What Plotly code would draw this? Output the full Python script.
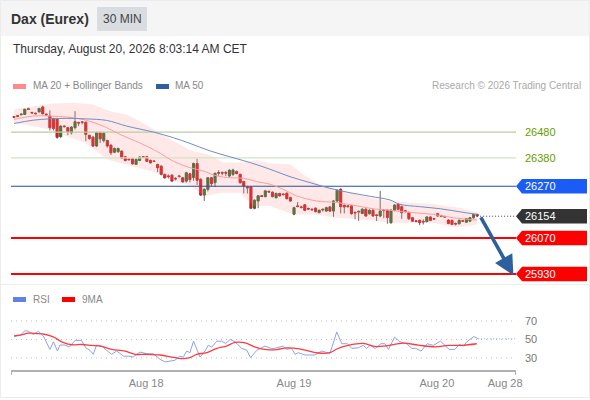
import plotly.graph_objects as go

OPEN = [26540,26543,26547,26548,26570,26556,26553,26558,26577,26549,26542,26531,26531,26462,26503,26497,26477,26497,26517,26519,26518,26467,26460,26426,26477,26447,26447,26429,26402,26404,26406,26384,26375,26376,26355,26370,26384,26384,26370,26368,26354,26348,26316,26310,26313,26301,26310,26303,26290,26318,26304,26358,26297,26236,26258,26303,26284,26323,26323,26323,26310,26316,26327,26316,26288,26266,26267,26185,26213,26233,26230,26250,26247,26226,26242,26240,26243,26226,26162,26194,26190,26198,26184,26181,26185,26168,26181,26174,26190,26174,26213,26258,26196,26194,26194,26169,26173,26165,26181,26164,26177,26159,26155,26178,26177,26129,26177,26200,26191,26175,26168,26148,26136,26138,26134,26133,26151,26145,26164,26156,26153,26139,26138,26126,26125,26136,26131,26135,26148,26161]
HIGH = [26542,26546,26552,26570,26574,26558,26555,26574,26582,26552,26564,26535,26535,26506,26506,26500,26503,26561,26520,26522,26520,26470,26464,26481,26481,26480,26450,26432,26420,26420,26409,26387,26378,26380,26378,26386,26387,26388,26373,26370,26358,26351,26319,26316,26316,26305,26314,26306,26326,26322,26362,26377,26300,26262,26306,26306,26323,26332,26327,26329,26336,26338,26331,26319,26291,26272,26270,26219,26236,26236,26256,26254,26250,26246,26245,26243,26246,26230,26191,26209,26195,26201,26187,26184,26188,26180,26184,26191,26194,26217,26259,26262,26199,26197,26198,26172,26176,26185,26185,26181,26181,26162,26252,26181,26181,26181,26201,26204,26195,26178,26172,26151,26139,26141,26142,26154,26154,26148,26167,26159,26156,26143,26141,26129,26141,26139,26147,26151,26164,26164]
LOW = [26534,26538,26545,26546,26566,26552,26549,26556,26548,26544,26486,26486,26454,26458,26498,26468,26471,26490,26503,26510,26445,26450,26422,26422,26438,26440,26420,26391,26398,26400,26376,26366,26370,26354,26352,26367,26379,26364,26358,26364,26325,26312,26300,26300,26288,26293,26304,26283,26284,26285,26291,26275,26232,26213,26250,26269,26267,26310,26312,26310,26305,26310,26316,26280,26242,26242,26182,26181,26185,26228,26227,26244,26227,26222,26230,26234,26219,26210,26158,26188,26184,26174,26178,26176,26169,26165,26172,26171,26171,26152,26209,26165,26165,26186,26160,26142,26136,26162,26152,26160,26152,26136,26150,26146,26125,26125,26173,26177,26144,26168,26140,26132,26130,26119,26122,26130,26135,26140,26152,26151,26148,26123,26119,26118,26122,26132,26128,26132,26145,26152]
CLOSE = [26537,26541,26549,26568,26568,26554,26551,26571,26551,26547,26497,26494,26460,26503,26501,26481,26499,26520,26515,26518,26471,26455,26426,26477,26454,26475,26426,26400,26416,26416,26380,26370,26373,26357,26374,26383,26382,26367,26361,26366,26342,26316,26303,26308,26290,26299,26308,26287,26322,26296,26358,26293,26236,26258,26303,26280,26320,26321,26321,26321,26332,26333,26319,26284,26271,26264,26185,26216,26233,26231,26252,26248,26230,26242,26233,26238,26222,26213,26187,26192,26188,26177,26182,26179,26172,26177,26179,26187,26174,26213,26254,26191,26190,26192,26164,26167,26171,26181,26155,26177,26155,26157,26174,26176,26149,26177,26197,26181,26168,26173,26144,26135,26134,26129,26132,26151,26138,26143,26155,26154,26151,26126,26122,26124,26138,26135,26144,26148,26161,26155]
CANDLE_X = list(range(len(OPEN)))

MA50_X = [0,5.4,10,14.7,20,25.8,31.4,38.8,44.4,49,54.6,60.2,65.7,71.3,76.9,82.5,88,93.6,99.2,104.7,107.5,113,118.7,124.2,129]
MA50 = [26513,26526,26531,26533,26531,26525,26503,26480,26458,26436,26407,26384,26362,26336,26307,26284,26262,26245,26231,26217,26200,26191,26183,26171,26161]
MA20_X = [0,5.4,10,14.7,18.4,22,25.8,29.5,35,39.7,44.4,49,52.7,56.5,60.2,63.9,67.6,71.3,75,78.7,84.3,89.9,95.5,101,104.7,111,116.8,122.4,129]
MA20 = [26529,26542,26542,26538,26531,26518,26497,26471,26438,26406,26367,26342,26329,26310,26303,26301,26288,26278,26258,26233,26213,26207,26194,26181,26177,26168,26161,26148,26139]
UPPER_X = [0,5.4,11,16.5,22,26.7,31.4,35,39.7,44.4,49,51.8,54.6,58.3,63.9,67.6,71.3,76.9,80.6,84.3,88,93.6,99.2,104.7,111,116.8,124.2,129]
UPPER = [26568,26580,26591,26593,26587,26561,26548,26522,26484,26445,26409,26400,26391,26362,26362,26371,26358,26355,26316,26284,26265,26245,26226,26213,26206,26200,26187,26168]
LOWER_X = [0,10,14.7,20,26,33,39.7,44.4,49,52.7,58.3,63,66.6,71.3,77.8,84.3,88.9,95.5,101,104.7,111,116.8,123.3,129]
LOWER = [26516,26490,26464,26438,26374,26348,26322,26290,26275,26233,26245,26245,26194,26194,26161,26161,26149,26142,26136,26129,26129,26129,26110,26122]

RSI_X = [0,1.7,3.1,4,5.4,6.8,8.2,10,11,12.1,12.8,14.2,15.4,17,18.8,20,21.2,22.1,23,24.4,25.8,27.2,28.6,30.5,31.8,33.2,35.1,37,38.8,40.7,42.1,43.5,44.8,46.2,47.2,48.1,49,50,50.9,51.8,52.9,54.1,55.1,56.5,57.8,59,60.2,61.6,63.4,64.8,65.9,67.6,69.9,71.8,73.2,75,76,77.3,78.3,79.2,81.1,83.8,85.7,88,89.9,91.3,92.9,94.1,95.9,97.3,98.2,99.2,100.6,102.2,103.3,104.3,106,107.5,109.4,110.8,111.9,113.4,115.1,116.8,118.8,121.2,122.8,124,125.2,126.1,128.1,129.3]
RSI = [52.9,54.6,59.6,58.9,55.4,58.9,53.6,39.3,47.5,37.5,44,44,41.8,49,49,41,38.2,34,44,42.9,38.2,34,37.5,32,32,31.2,36.4,34.6,34.6,28.6,25.7,26.8,27.5,32,31,37.5,35.7,48.2,39.3,31,35.7,43.6,41.8,48.2,48.2,45.7,50,47.5,40.4,38.6,30.4,38.2,42.9,40,41,42.9,39.3,40.4,34,35.7,33.2,33.2,37.5,35,58.2,45.4,45.4,40.4,41,43.6,40.4,43.6,40.4,45.4,45.4,39.3,52.5,47.5,45.4,40.4,40.4,37.5,45.4,43.6,48.2,39.3,39.3,44.6,42.9,47.5,53.2,50.7]
RSI_LAST_X = [129.3,139.6]
RSI_LAST = [50.7,50.7]
MA9_X = [0,1.7,4,6.3,8.8,11.1,13.3,16.1,18.8,21.6,24.4,27.2,30.9,33.7,37,40.7,44,46.7,49,50.9,53.7,56.5,59.2,61.6,64.4,67.2,70.4,73.2,76,78.3,81.1,84.8,88,89.9,93.1,97.3,100.6,103.3,108.4,112.6,117.3,121,124.7,128.9]
MA9 = [54,54.6,56.8,56.4,55.4,52.5,47.5,44.3,44.6,43.6,42.5,39.3,37.5,34,34,33.2,31,29.3,30.4,34,35.7,40.4,42.9,46.8,46.4,41.8,39,39,41,40.4,38.6,35.4,35.7,39.7,43.6,45.7,42.5,42.9,46,43.9,42,43.6,43.6,45.4]

LEVELS_GREEN = [26480, 26380]
LEVEL_BLUE = 26270
LEVEL_LAST = 26154
LEVELS_RED = [26070, 25930]
RSI_LEVELS = [70, 50, 30]
DATE_TICKS = [36.8, 78, 117.8, 136.8]
DATE_LABELS = ["Aug 18", "Aug 19", "Aug 20", "Aug 28"]

W, H = 590, 400
XR = [-0.836, 139.83]
FONT = "Liberation Sans"
fig = go.Figure()

def line(x, y, color, width=1, dash="solid", shape="linear", xa="x", ya="y"):
    fig.add_trace(go.Scatter(x=x, y=y, mode="lines", xaxis=xa, yaxis=ya, hoverinfo="skip",
                             line=dict(color=color, width=width, dash=dash, shape=shape)))

# Bollinger band
fig.add_trace(go.Scatter(x=UPPER_X + LOWER_X[::-1], y=UPPER + LOWER[::-1], fill="toself", mode="none",
                         fillcolor="rgba(255,140,140,0.2)", hoverinfo="skip"))
# levels
line(XR, [LEVELS_GREEN[0]] * 2, "#b6cfa0", 1.3)
line(XR, [LEVELS_GREEN[1]] * 2, "#d3e4c4", 1.3)
line(XR, [LEVEL_BLUE] * 2, "#2a4f9c", 1.2)
for v in LEVELS_RED:
    line(XR, [v] * 2, "#ff0000", 2)
line([CANDLE_X[-1], XR[1]], [LEVEL_LAST] * 2, "#444444", 1, "1px,2px")
# averages
line(MA20_X, MA20, "#ff9c9c", 1, shape="spline")
line(MA50_X, MA50, "#6f8fc4", 1, shape="spline")
# candles: wicks, then bodies
fig.add_trace(go.Candlestick(x=CANDLE_X, open=OPEN, high=HIGH, low=LOW, close=CLOSE, whiskerwidth=0,
                             increasing=dict(line=dict(color="#6f6462", width=1), fillcolor="#2f6f2a"),
                             decreasing=dict(line=dict(color="#6f6462", width=1), fillcolor="#e0161c"),
                             hoverinfo="skip"))
body_hi = [max(a, b) for a, b in zip(OPEN, CLOSE)]
body_lo = [min(a, b) for a, b in zip(OPEN, CLOSE)]
fig.add_trace(go.Candlestick(x=CANDLE_X, open=OPEN, high=body_hi, low=body_lo, close=CLOSE, whiskerwidth=0,
                             increasing=dict(line=dict(color="#2f6f2a", width=0.5), fillcolor="#2f6f2a"),
                             decreasing=dict(line=dict(color="#e0161c", width=0.5), fillcolor="#e0161c"),
                             hoverinfo="skip"))
# RSI panel
for v in RSI_LEVELS:
    line(XR, [v] * 2, "#bdbdbd", 1, "1px,4px", xa="x2", ya="y2")
line(RSI_X, RSI, "#8aa3ee", 1, xa="x2", ya="y2")
line(RSI_LAST_X, RSI_LAST, "#8aa3ee", 1, "1px,2px", xa="x2", ya="y2")
line(MA9_X, MA9, "#ff3b3b", 1.3, shape="spline", xa="x2", ya="y2")

def px(x):
    return x / W
def py(y):
    return 1 - y / H

shapes, ann = [], []
def rect(x0, y0, x1, y1, fill, lw=0, lc=None, layer="below"):
    shapes.append(dict(type="rect", xref="paper", yref="paper", x0=px(x0), x1=px(x1), y0=py(y0), y1=py(y1),
                       fillcolor=fill, line=dict(width=lw, color=lc or fill), layer=layer))
def text(x, y, s, size=10, color="#888888", anchor="left", bold=False):
    ann.append(dict(xref="paper", yref="paper", x=px(x), y=py(y), text=f"<b>{s}</b>" if bold else s,
                    showarrow=False, xanchor=anchor, yanchor="middle", xshift=0,
                    font=dict(family=FONT, size=size, color=color), borderpad=0, borderwidth=0))

rect(0, 0, 590, 36, "#f5f5f5")
rect(97, 7, 147, 31, "#d9dce1")
rect(0, 284, 590, 285, "#eeeeee")
rect(0.5, 0.5, 589.5, 397.5, "rgba(0,0,0,0)", 1, "#ececec")
text(11, 19, "Dax (Eurex)", 14, "#333333", bold=True)
text(103, 19, "30 MIN", 12, "#444444")
text(13, 49, "Thursday, August 20, 2026 8:03:14 AM CET", 12, "#333333")
rect(13, 84, 26, 89, "#ff8a8a")
text(33, 86, "MA 20 + Bollinger Bands", 10)
rect(156, 84, 169, 89, "#2f5f9e")
text(175, 86, "MA 50", 10)
text(581, 86, "Research © 2026 Trading Central", 10, "#aaaaaa", "right")
rect(13, 297, 26, 302, "#5f82e6")
text(33, 299, "RSI", 10)
rect(62, 297, 75, 302, "#ff0000")
text(82, 299, "9MA", 10)

for v, c in zip(LEVELS_GREEN, ["#5f9f00", "#5f9f00"]):
    ann.append(dict(xref="paper", yref="y", x=px(525), y=v, text=str(v), showarrow=False, xanchor="left", xshift=-2,
                    font=dict(family=FONT, size=11, color=c)))
for v in RSI_LEVELS:
    ann.append(dict(xref="paper", yref="y2", x=px(525), y=v, text=str(v), showarrow=False, xanchor="left", xshift=-2,
                    font=dict(family=FONT, size=11, color="#777777")))
for v, c in [(LEVEL_BLUE, "#1a5cf5"), (LEVEL_LAST, "#333333"), (LEVELS_RED[0], "#ff0000"), (LEVELS_RED[1], "#ff0000")]:
    d = 28
    shapes.append(dict(type="path", xref="paper", yref="y", fillcolor=c, line=dict(width=0), layer="above",
                       path=f"M {px(516)},{v} L {px(522)},{v+d} L {px(587)},{v+d} L {px(587)},{v-d} L {px(522)},{v-d} Z"))
    ann.append(dict(xref="paper", yref="y", x=px(525), y=v, text=str(v), showarrow=False, xanchor="left", xshift=-2,
                    font=dict(family=FONT, size=11, color="#ffffff")))
# forecast arrow
ann.append(dict(xref="x", yref="y", axref="x", ayref="y", x=139.1, y=25925, ax=129.8, ay=26155, text="",
                showarrow=True, arrowhead=2, arrowsize=1.1, arrowwidth=3.6, arrowcolor="#2c5f9e", standoff=0))
# axis end ticks
for xv in XR:
    shapes.append(dict(type="line", xref="x2", yref="paper", x0=xv, x1=xv, y0=py(370), y1=py(375),
                       line=dict(color="#b0b0b0", width=2)))

fig.update_layout(
    width=W, height=H, margin=dict(l=0, r=0, t=0, b=0, autoexpand=False), paper_bgcolor="#ffffff", plot_bgcolor="#ffffff",
    showlegend=False, boxgap=0.2, shapes=shapes, annotations=ann, dragmode=False,
    xaxis=dict(domain=[px(11), px(516)], range=XR, visible=False, rangeslider=dict(visible=False), anchor="y"),
    yaxis=dict(domain=[py(284), py(60)], range=[25891.5, 26759], visible=False, anchor="x"),
    xaxis2=dict(domain=[px(11), px(516)], range=XR, anchor="y2", showgrid=False, zeroline=False, showline=True,
                linecolor="#b0b0b0", linewidth=2, ticks="", tickmode="array", tickvals=DATE_TICKS,
                ticktext=DATE_LABELS, tickfont=dict(family=FONT, size=11, color="#888888"),
                ticklabeloverflow="allow", ticklabelstandoff=2),
    yaxis2=dict(domain=[py(370), py(300)], range=[17, 92.7], visible=False, anchor="x2"),
)
fig.write_html("out.html", config=dict(displayModeBar=False, staticPlot=True),
               post_script="document.body.style.margin='0';")
